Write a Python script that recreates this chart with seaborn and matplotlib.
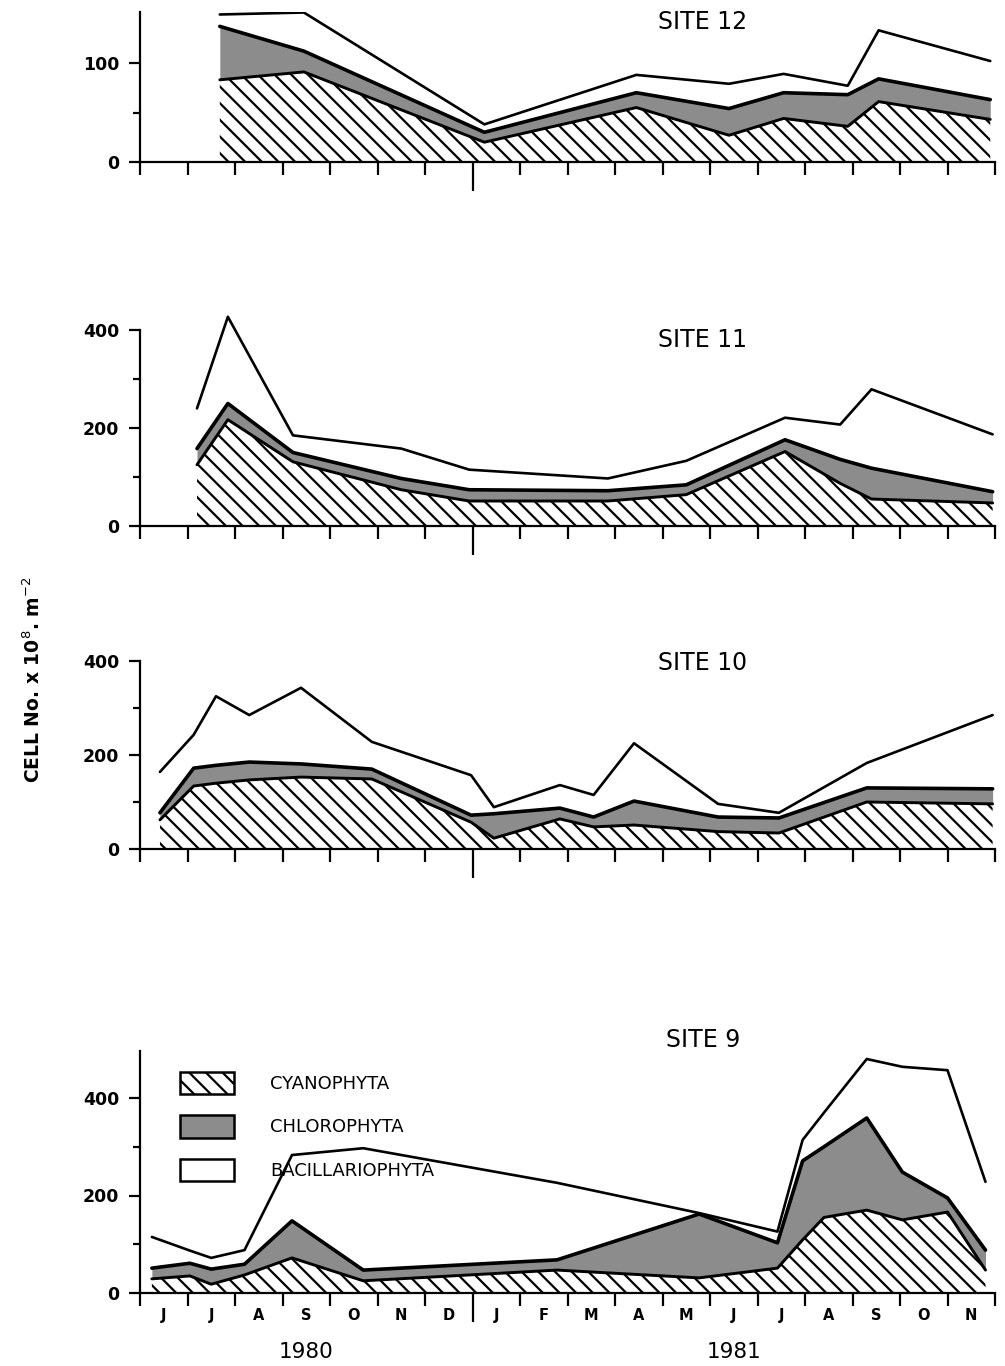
import numpy as np
import pandas as pd
import matplotlib
matplotlib.use("Agg")
import matplotlib.pyplot as plt
from matplotlib.patches import Patch
from matplotlib.ticker import FixedLocator, NullFormatter
import seaborn as sns

# ---------------- data (x in months since 1 June 1980) ----------------
months = ["J", "J", "A", "S", "O", "N", "D", "J", "F", "M", "A", "M",
          "J", "J", "A", "S", "O", "N"]
years = ["1980", "1981"]
year_span = [7, 11]            # months per year on the axis
groups = ["CYANOPHYTA", "CHLOROPHYTA", "BACILLARIOPHYTA"]

s12_t = [1.68, 3.45, 7.25, 10.45, 12.4, 13.55, 14.9, 15.55, 17.9]
s12_cyano = [83, 91, 20, 55, 27, 44, 36, 61, 43]
s12_chloro = [54, 21, 10, 15, 27, 26, 32, 23, 20]
s12_bacil = [12, 39, 8, 18, 25, 19, 9, 49, 39]

s11_t = [1.2, 1.85, 3.22, 5.5, 6.93, 9.85, 11.5, 13.58, 14.74, 15.4, 17.95]
s11_cyano = [125, 217, 131, 74, 51, 51, 64, 152, 87, 55, 47]
s11_chloro = [33, 33, 19, 23, 23, 21, 20, 24, 49, 63, 23]
s11_bacil = [82, 177, 35, 61, 41, 25, 49, 45, 71, 161, 117]

s10_t = [0.42, 1.13, 1.6, 2.3, 3.39, 4.88, 6.97, 7.45, 8.84, 9.55, 10.4,
         12.17, 13.45, 15.3, 17.95]
s10_cyano = [62, 134, 140, 147, 153, 149, 57, 23, 64, 47, 51, 37, 34, 100, 96]
s10_chloro = [15, 38, 38, 38, 28, 21, 15, 52, 23, 21, 51, 31, 32, 30, 32]
s10_bacil = [87, 71, 147, 100, 162, 58, 85, 14, 49, 47, 123, 28, 11, 53, 157]

s9_t = [0.25, 1.05, 1.5, 2.2, 3.2, 4.7, 8.78, 11.77, 13.42, 13.95, 14.4,
        15.3, 16.05, 17.0, 17.8]
s9_cyano = [29, 35, 18, 37, 72, 25, 47, 31, 51, 109, 155, 170, 150, 166, 47]
s9_chloro = [22, 26, 31, 22, 76, 22, 21, 131, 52, 162, 145, 189, 98, 29, 41]
s9_bacil = [64, 26, 23, 29, 135, 250, 158, 2, 23, 43, 70, 121, 216, 262, 140]

# ---------------- style ----------------
sns.set_theme(style="ticks")
plt.rcParams["font.family"] = ["DejaVu Sans"]
plt.rcParams["hatch.linewidth"] = 1.6
plt.rcParams["hatch.color"] = "black"
for k in ["text.color", "axes.labelcolor", "xtick.color", "ytick.color",
          "axes.edgecolor"]:
    plt.rcParams[k] = "black"

W, H = 1005, 1366
fig = plt.figure(figsize=(W / 100, H / 100), dpi=100)

GRAY = "#8c8c8c"
HATCH = "\\\\"
AX_LEFT, AX_RIGHT = 140, 995


def make_ax(zero_px, top_px):
    return fig.add_axes([AX_LEFT / W, 1 - zero_px / H,
                         (AX_RIGHT - AX_LEFT) / W, (zero_px - top_px) / H])


def draw_site(ax, t, cy, ch, ba, ylim, spine_top, major, minor, title, title_y,
              bottom=False):
    t = np.asarray(t, float)
    c1 = np.asarray(cy, float)
    c2 = c1 + np.asarray(ch, float)
    c3 = c2 + np.asarray(ba, float)
    ax.fill_between(t, 0, c1, facecolor="white", edgecolor="black",
                    hatch=HATCH, linewidth=0, zorder=1)
    ax.fill_between(t, c1, c2, facecolor=GRAY, linewidth=0, zorder=1)
    sns.lineplot(x=t, y=c3, ax=ax, color="black", lw=1.9, sort=False,
                 legend=False, zorder=3)
    sns.lineplot(x=t, y=c2, ax=ax, color="black", lw=2.6, sort=False,
                 legend=False, zorder=3)
    sns.lineplot(x=t, y=c1, ax=ax, color="black", lw=2.1, sort=False,
                 legend=False, zorder=3)

    ax.set_xlim(0, len(months))
    ax.set_ylim(*ylim)
    ax.set_facecolor("none")
    for s in ["top", "right"]:
        ax.spines[s].set_visible(False)
    for s in ["left", "bottom"]:
        ax.spines[s].set_linewidth(1.6)
        ax.spines[s].set_color("black")
    ax.spines["left"].set_bounds(0, spine_top)

    ax.yaxis.set_major_locator(FixedLocator(major))
    ax.yaxis.set_minor_locator(FixedLocator(minor))
    ax.set_yticklabels([str(v) for v in major], fontsize=12.5,
                       fontweight="bold")
    ax.tick_params(axis="y", which="major", direction="out", length=8,
                   width=1.6, pad=7, colors="black")
    ax.tick_params(axis="y", which="minor", direction="out", length=5,
                   width=1.6, colors="black")

    # month boundary ticks, longer tick at the year boundary
    ax.xaxis.set_major_locator(FixedLocator([year_span[0]]))
    ax.xaxis.set_minor_locator(FixedLocator(list(range(len(months) + 1))))
    ax.xaxis.set_major_formatter(NullFormatter())
    ax.tick_params(axis="x", which="major", direction="out", length=21,
                   width=1.6, colors="black")
    ax.tick_params(axis="x", which="minor", direction="out", length=9,
                   width=1.6, colors="black")
    ax.set_xlabel("")
    ax.set_ylabel("")

    ax.text(11.85, title_y, title, fontsize=17, ha="center", va="center",
            color="black")

    if bottom:
        sec = ax.secondary_xaxis("bottom")
        sec.set_xticks(np.arange(len(months)) + 0.5, labels=months)
        sec.tick_params(length=0, pad=11, labelsize=10.5, colors="black")
        for lab in sec.get_xticklabels():
            lab.set_fontweight("bold")
        sec.spines["bottom"].set_visible(False)
        sec2 = ax.secondary_xaxis("bottom")
        edges = np.concatenate([[0], np.cumsum(year_span)])
        sec2.set_xticks((edges[:-1] + edges[1:]) / 2, labels=years)
        sec2.tick_params(length=0, pad=35, labelsize=15.5, colors="black")
        sec2.spines["bottom"].set_visible(False)


ax12 = make_ax(162, 162 - 151.5 * 0.99)
draw_site(ax12, s12_t, s12_cyano, s12_chloro, s12_bacil, (0, 151.5), 151.5,
          [0, 100], [50], "SITE 12", 141)

ax11 = make_ax(526, 526 - 440 * 0.49)
draw_site(ax11, s11_t, s11_cyano, s11_chloro, s11_bacil, (0, 440), 400,
          [0, 200, 400], [100, 300], "SITE 11", 380)

ax10 = make_ax(849, 849 - 400 * 0.47)
draw_site(ax10, s10_t, s10_cyano, s10_chloro, s10_bacil, (0, 400), 400,
          [0, 200, 400], [100, 300], "SITE 10", 396)

ax9 = make_ax(1293, 1293 - 496 * 0.4875)
draw_site(ax9, s9_t, s9_cyano, s9_chloro, s9_bacil, (0, 496), 496,
          [0, 200, 400], [100, 300], "SITE 9", 519, bottom=True)

handles = [
    Patch(facecolor="white", edgecolor="black", hatch=HATCH, linewidth=1.8),
    Patch(facecolor=GRAY, edgecolor="black", linewidth=1.8),
    Patch(facecolor="white", edgecolor="black", linewidth=1.8),
]
leg = ax9.legend(handles, groups, loc="upper left",
                 bbox_to_anchor=(0.047, 0.915), frameon=False, fontsize=13,
                 handlelength=3.0, handleheight=1.55, labelspacing=1.15,
                 handletextpad=2.0, borderpad=0, borderaxespad=0)
for txt in leg.get_texts():
    txt.set_color("black")

fig.text(33 / W, 1 - 680 / H, r"CELL No. x 10$^{8}$. m$^{-2}$", rotation=90,
         ha="center", va="center", fontsize=13.5, fontweight="bold")

fig.savefig("out.png", dpi=100)
